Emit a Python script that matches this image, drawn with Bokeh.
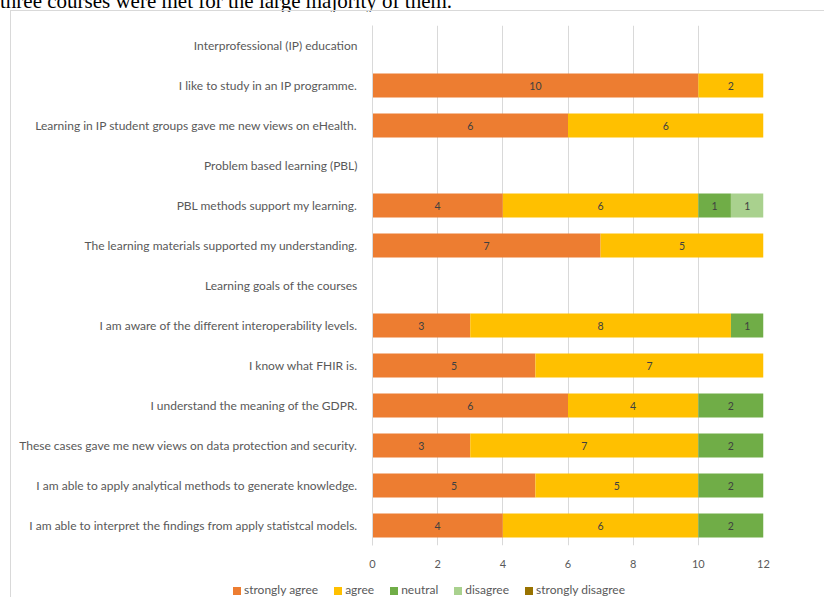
from bokeh.plotting import figure
from bokeh.models import ColumnDataSource, FactorRange, FixedTicker, Div
from bokeh.layouts import column
from bokeh.core.properties import value
from bokeh.embed import file_html
from bokeh.resources import INLINE

statements = [
    "Interprofessional (IP) education",
    "I like to study in an IP programme.",
    "Learning in IP student groups gave me new views on eHealth.",
    "Problem based learning (PBL)",
    "PBL methods support my learning.",
    "The learning materials supported my understanding.",
    "Learning goals of the courses",
    "I am aware of the different interoperability levels.",
    "I know what FHIR is.",
    "I understand the meaning of the GDPR.",
    "These cases gave me new views on data protection and security.",
    "I am able to apply analytical methods to generate knowledge.",
    "I am able to interpret the findings from apply statistcal models.",
]
strongly_agree =    [0, 10, 6, 0, 4, 7, 0, 3, 5, 6, 3, 5, 4]
agree =             [0, 2, 6, 0, 6, 5, 0, 8, 7, 4, 7, 5, 6]
neutral =           [0, 0, 0, 0, 1, 0, 0, 1, 0, 2, 2, 2, 2]
disagree =          [0, 0, 0, 0, 1, 0, 0, 0, 0, 0, 0, 0, 0]
strongly_disagree = [0, 0, 0, 0, 0, 0, 0, 0, 0, 0, 0, 0, 0]
series_names = ["strongly agree", "agree", "neutral", "disagree", "strongly disagree"]
x_ticks = [0, 2, 4, 6, 8, 10, 12]
intro_text = "three courses were met for the large majority of them."

colors = ["#ED7D31", "#FFC000", "#70AD47", "#A9D18E", "#997300"]
keys = ["sa", "a", "n", "d", "sd"]
series = [strongly_agree, agree, neutral, disagree, strongly_disagree]

source = ColumnDataSource(dict(y=statements, sa=strongly_agree, a=agree, n=neutral,
                               d=disagree, sd=strongly_disagree))

# page geometry: chart box starts at (11, 10)
OX, OY = 11, 10
W = 825 - OX
H_MAIN = 578 - OY
H_LEG = 598 - 578
FL, FR, FT, FB = 372 - OX, 763 - OX, 25 - OY, 545 - OY

p = figure(width=W, height=H_MAIN - 1, output_backend="svg", toolbar_location=None,
           y_range=FactorRange(factors=list(reversed(statements)), range_padding=0),
           x_range=(0, 12),
           min_border_left=FL, min_border_right=W - FR,
           min_border_top=FT - 1, min_border_bottom=H_MAIN - FB)
p.outline_line_color = None
p.background_fill_color = "white"
p.border_fill_color = "white"
p.styles = {"border-left": "1px solid #d9d9d9", "border-top": "1px solid #d9d9d9",
            "margin-left": "%dpx" % (OX - 1)}

p.hbar_stack(keys, y="y", height=0.6, color=colors, source=source, line_color=None)

# value labels
lx, ly, lt = [], [], []
for i, s in enumerate(statements):
    cum = 0
    for ser in series:
        v = ser[i]
        if v:
            lx.append(cum + v / 2)
            ly.append(s)
            lt.append(str(v))
        cum += v
p.text(x=lx, y=ly, text=lt, text_align="center", text_baseline="middle",
       text_font=value("Lato"), text_font_size="10.5px", text_color="#404040")

# axes
p.xaxis.ticker = FixedTicker(ticks=x_ticks)
p.xaxis.axis_line_color = None
p.xaxis.major_tick_line_color = None
p.xaxis.minor_tick_line_color = None
p.xaxis.major_label_text_font = "Lato"
p.xaxis.major_label_text_font_size = "11px"
p.xaxis.major_label_text_color = "#595959"
p.xaxis.major_label_standoff = 8

p.yaxis.axis_line_color = "#d9d9d9"
p.yaxis.major_tick_line_color = None
p.yaxis.minor_tick_line_color = None
p.yaxis.major_label_text_font = "Lato"
p.yaxis.major_label_text_font_size = "12px"
p.yaxis.major_label_text_color = "#595959"
p.yaxis.major_label_standoff = 9

p.xgrid.grid_line_color = "#d9d9d9"
p.xgrid.grid_line_width = 1
p.ygrid.grid_line_color = None

# legend strip below the chart
legend_html = ('<div style="height:%dpx; overflow:visible;"><div style="position:relative; '
               'left:%dpx; top:5px; font-family:Lato; font-size:12px; line-height:12px; '
               'color:#595959; white-space:nowrap;">' % (H_LEG, 233 - OX))
for name, c in zip(series_names, colors):
    legend_html += ('<span style="display:inline-block; width:8px; height:8px; '
                    'background:%s; margin-right:3px; vertical-align:-1px;"></span>'
                    '<span style="margin-right:16px;">%s</span>' % (c, name))
legend_html += '</div></div>'
leg = Div(text=legend_html, width=W, height=H_LEG, margin=(0, 0, 0, OX - 1),
          styles={"border-left": "1px solid #d9d9d9", "overflow": "visible"})

intro = Div(text=('<div style="height:%dpx; overflow:visible;"><div style="position:relative; '
                  'top:-9px; font-family:\'Liberation Serif\'; font-size:21px; '
                  'line-height:21px; color:black; white-space:nowrap;">%s</div></div>'
                  % (OY, intro_text)),
            width=825, height=OY, margin=0, styles={"overflow": "visible"})

layout = column(intro, p, leg, spacing=0)
open("out.html", "w").write(file_html(layout, INLINE))
